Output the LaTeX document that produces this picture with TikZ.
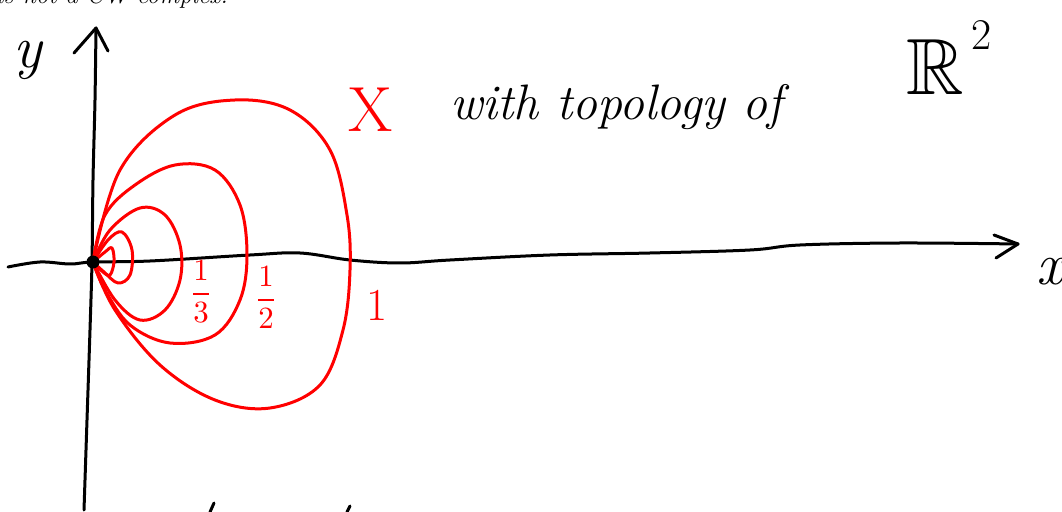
\documentclass[tikz,border=0pt]{standalone}
\usepackage{amssymb}
\begin{document}
\begin{tikzpicture}[x=1bp,y=-1bp,
  ink/.style={line width=3bp,line cap=round,line join=round},
  ring/.style={ink,red,smooth,tension=0.6},
  hand/.style={font=\itshape\fontsize{48}{52}\selectfont,inner sep=0pt},
  redlab/.style={red,inner sep=0pt,scale=3.1}]
\useasboundingbox (0,0) rectangle (1062,512);
% cropped caption
\node[anchor=base west,inner sep=0pt,font=\itshape\fontsize{25}{30}\selectfont] (cap) at (-4,4) {is not a CW complex.};
% axes
\coordinate (xe) at (1018,244);
\coordinate (ye) at (96,28);
\draw[ink] plot[smooth,tension=0.6] coordinates {(8,267) (40,262) (70,264) (93,262) (150,261) (250,255) (300,253) (350,260) (400,263) (450,260) (550,255) (650,253) (750,250) (800,245) (900,243) (1018,244)};
\draw[ink] (xe) ++(-24,-9) -- (xe) -- ++(-22,14);
\draw[ink] plot[smooth,tension=0.5] coordinates {(84,510) (87,420) (90,330) (92,262) (93,180) (95,100) (96,28)};
\draw[ink] (ye) ++(-22,25) -- (ye) -- ++(12,23);
\node[hand,font=\itshape\fontsize{60}{64}\selectfont] (xl) at (1050,272) {x};
\node[hand,font=\itshape\fontsize{60}{64}\selectfont] (yl) at (28,60) {y};
% rings
\draw[ring] plot coordinates {(93,262) (120,170) (175,115) (235,100) (290,110) (330,150) (347,215) (350,270) (343,330) (320,385) (270,408) (215,400) (160,365) (115,310) (93,262)};
\draw[ring] plot coordinates {(93,262) (105,215) (135,185) (175,165) (215,170) (240,205) (247,255) (240,300) (215,335) (170,343) (130,325) (105,290) (93,262)};
\draw[ring] plot coordinates {(93,262) (110,230) (140,208) (165,215) (180,245) (180,280) (165,310) (140,320) (115,300) (93,262)};
\draw[ring] plot coordinates {(93,262) (108,240) (122,232) (132,250) (130,275) (118,283) (104,272) (93,262)};
\draw[ring] plot coordinates {(93,262) (105,252) (112,248) (114,262) (110,275) (103,272) (93,262)};
% origin
\node[circle,fill=black,inner sep=0pt,minimum size=13bp] (O) at (93,262) {};
% labels
\node[redlab] (l3) at (201,292) {$\displaystyle\frac{1}{3}$};
\node[redlab] (l2) at (266,298) {$\displaystyle\frac{1}{2}$};
\node[red,inner sep=0pt,font=\fontsize{46}{50}\selectfont] (l1) at (377,305) {1};
\node[red,inner sep=0pt,font=\fontsize{64}{68}\selectfont] (X) at (371,110) {X};
\node[hand,anchor=base west,font=\itshape\fontsize{50}{54}\selectfont] (txt) at (450,120) {with topology of};
\node[inner sep=0pt,anchor=base west,scale=8] (R) at (905,95) {$\mathbb{R}$};
\node[inner sep=0pt,font=\fontsize{44}{48}\selectfont] (sq) at (982,35) {2};
% cropped marks at bottom
\draw[ink] (210,512) -- (214,503);
\draw[ink] (347,512) -- (350,506);
\end{tikzpicture}
\end{document}
